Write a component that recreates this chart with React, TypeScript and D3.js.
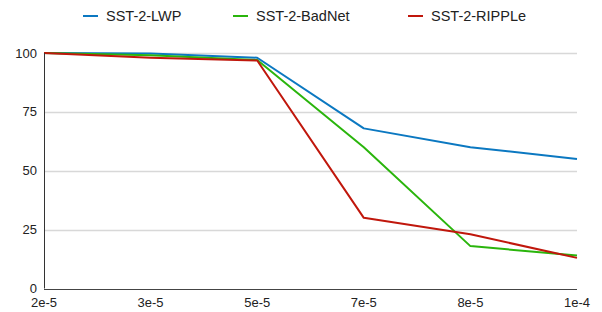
import * as d3 from 'd3';

const categories = ['2e-5', '3e-5', '5e-5', '7e-5', '8e-5', '1e-4'];
const lwp = [100, 99.8, 98, 68, 60, 55];
const badnet = [100, 99, 97, 60, 18, 14];
const ripple = [100, 98, 96.8, 30, 23, 13];
const seriesNames = ['SST-2-LWP', 'SST-2-BadNet', 'SST-2-RIPPLe'];
const colors = ['#0b78c1', '#2ab50c', '#c0170c'];
const yTicks = [0, 25, 50, 75, 100];

const App = () => {
    const width = 602, height = 312;
    const margin = { top: 53, right: 25, bottom: 24, left: 44 };
    const x = d3.scalePoint<string>().domain(categories).range([margin.left, width - margin.right]);
    const y = d3.scaleLinear().domain([0, 100]).range([height - margin.bottom + 0.5, margin.top]);
    const line = d3.line<number>()
        .x((_, i) => x(categories[i])!)
        .y(d => y(d));
    const all = [lwp, badnet, ripple];
    // legend swatch starts
    const legendX = [83, 233, 408];

    return (
        <svg width={width} height={height} style={{ position: 'absolute', left: 0, top: 0 }}
            fontFamily="'Liberation Sans', Arial, sans-serif">
            {yTicks.map(t => (
                <g key={t}>
                    {t > 0 && <line x1={margin.left} x2={width - margin.right} y1={Math.round(y(t)) + 0.5} y2={Math.round(y(t)) + 0.5} stroke="#d8d8d8" strokeWidth={1.3} />}
                    <text x={37} y={y(t)} dy="0.35em" textAnchor="end" fontSize={13} fill="#222">{t}</text>
                </g>
            ))}
            {all.map((s, i) => (
                <path key={i} d={line(s)!} fill="none" stroke={colors[i]} strokeWidth={2} strokeLinejoin="round" />
            ))}
            <line x1={margin.left + 0.5} x2={margin.left + 0.5} y1={margin.top} y2={y(0)} stroke="#333" strokeWidth={1} />
            <line x1={margin.left} x2={width - margin.right} y1={Math.round(y(0)) + 0.5} y2={Math.round(y(0)) + 0.5} stroke="#444" strokeWidth={1} />
            {categories.map(c => (
                <text key={c} x={x(c)} y={307} textAnchor="middle" fontSize={13} fill="#222">{c}</text>
            ))}
            {seriesNames.map((n, i) => (
                <g key={n}>
                    <line x1={legendX[i]} x2={legendX[i] + 15} y1={16} y2={16} stroke={colors[i]} strokeWidth={2} />
                    <text x={legendX[i] + 23} y={16} dy="0.35em" fontSize={14.5} fill="#222">{n}</text>
                </g>
            ))}
        </svg>
    );
};

export default App;
